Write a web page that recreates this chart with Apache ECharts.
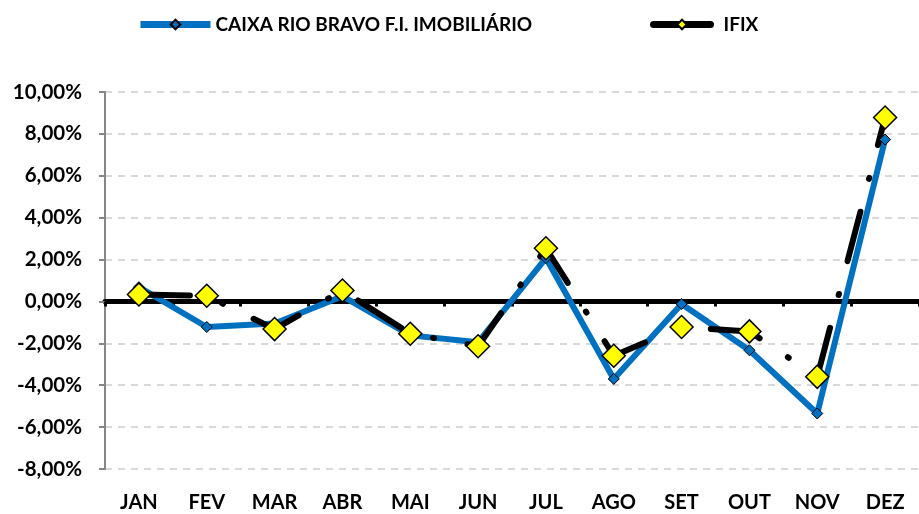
<!DOCTYPE html>
<html>
<head>
    <meta charset="utf-8">
    <title>Rentabilidade mensal</title>
    <script src="https://cdn.jsdelivr.net/npm/echarts@6/dist/echarts.min.js"></script>
    <style>
        html, body { margin: 0; padding: 0; background: #fff; }
    </style>
</head>
<body>
<div id="main" style="width: 919px;height:514px"></div>
<script type="text/javascript">
    // dados (em %)
    var meses = ['JAN', 'FEV', 'MAR', 'ABR', 'MAI', 'JUN', 'JUL', 'AGO', 'SET', 'OUT', 'NOV', 'DEZ'];
    var caixaRioBravo = [0.68, -1.22, -1.05, 0.25, -1.62, -1.95, 2.07, -3.70, -0.12, -2.33, -5.35, 7.73];
    var ifix = [0.33, 0.27, -1.32, 0.52, -1.54, -2.14, 2.54, -2.59, -1.22, -1.43, -3.60, 8.78];
    var nomeCaixa = 'CAIXA RIO BRAVO F.I. IMOBILIÁRIO';
    var nomeIfix = 'IFIX';

    var fonte = 'Lato';
    var myChart = echarts.init(document.getElementById('main'));

    var legendaTexto = { fontFamily: fonte, fontWeight: 'bold', fontSize: 19, color: '#000' };

    var option = {
        backgroundColor: '#fff',
        animation: false,
        textStyle: { fontFamily: fonte },
        legend: [
            {
                left: 132,
                top: 10,
                itemWidth: 70,
                itemHeight: 12,
                textStyle: legendaTexto,
                data: [{ name: nomeCaixa, lineStyle: { width: 7 } }]
            },
            {
                left: 645,
                top: 10,
                itemWidth: 57,
                itemHeight: 12,
                textStyle: Object.assign({ padding: [0, 0, 0, 8] }, legendaTexto),
                data: [{ name: nomeIfix, lineStyle: { type: 'solid', width: 7 } }]
            }
        ],
        grid: { left: 105, right: 0, top: 92, bottom: 45 },
        xAxis: [
            {
                type: 'category',
                data: meses,
                axisLine: { show: false, onZero: false },
                axisTick: { show: false },
                axisLabel: {
                    margin: 24,
                    fontFamily: fonte,
                    fontWeight: 'bold',
                    fontSize: 20,
                    color: '#000'
                }
            },
            {
                type: 'category',
                data: meses,
                position: 'bottom',
                axisLine: { show: true, onZero: true, lineStyle: { color: '#000', width: 5 } },
                axisTick: { show: true, length: 5, lineStyle: { color: '#000', width: 3 } },
                axisLabel: { show: false }
            }
        ],
        yAxis: {
            type: 'value',
            min: -8,
            max: 10,
            interval: 2,
            axisLine: { show: true, lineStyle: { color: '#868686', width: 2 } },
            axisTick: { show: true, length: 6, lineStyle: { color: '#868686', width: 2 } },
            splitLine: { show: true, lineStyle: { color: '#d9d9d9', width: 2, type: [7, 6] } },
            axisLabel: {
                margin: 23,
                fontFamily: fonte,
                fontWeight: 'bold',
                fontSize: 20.5,
                color: '#000',
                formatter: function (v) {
                    return v.toFixed(2).replace('.', ',') + '%';
                }
            }
        },
        series: [
            {
                name: nomeCaixa,
                type: 'line',
                data: caixaRioBravo,
                symbol: 'diamond',
                symbolSize: 11,
                lineStyle: { color: '#0070c0', width: 6, join: 'round' },
                itemStyle: { color: '#0070c0', borderColor: '#000', borderWidth: 1 }
            },
            {
                name: nomeIfix,
                type: 'line',
                data: ifix,
                symbol: 'diamond',
                symbolSize: 23,
                lineStyle: { color: '#000', width: 6, type: [51, 34, 1, 34], cap: 'round', join: 'round' },
                itemStyle: { color: '#ffff00', borderColor: '#000', borderWidth: 1.5 }
            }
        ]
    };

    myChart.setOption(option);
</script>
</body>
</html>
